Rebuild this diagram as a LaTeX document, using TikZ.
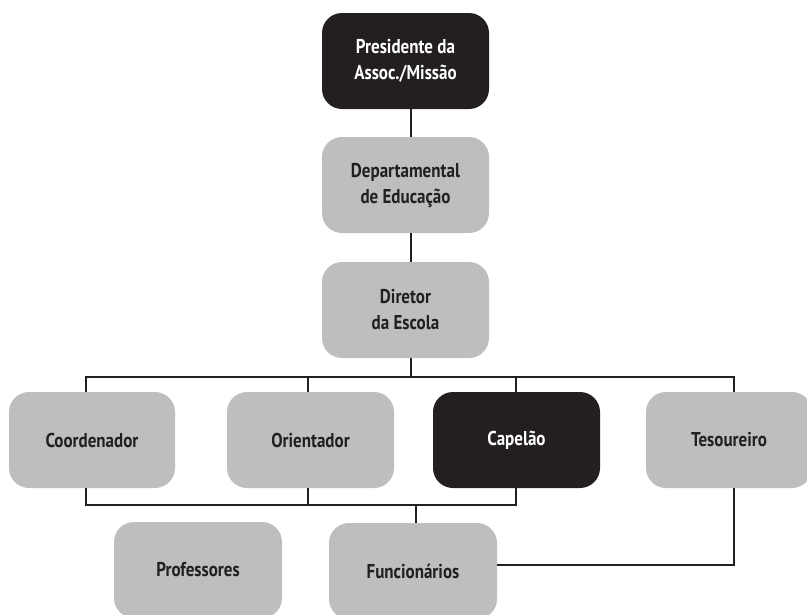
\documentclass[tikz,border=0pt]{standalone}
\usepackage{fontspec}
\setmainfont{PT Sans}[FakeStretch=0.85]
\usetikzlibrary{calc}
\definecolor{boxgray}{HTML}{BCBEC0}
\definecolor{boxblack}{HTML}{231F20}
\begin{document}
\begin{tikzpicture}[x=1pt,y=-1pt,
  box/.style={rounded corners=20pt, minimum height=96pt, minimum width=167pt, inner sep=0pt, align=center,
    font=\bfseries\fontsize{20}{26}\selectfont, text=boxblack, fill=boxgray},
  darkbox/.style={box, fill=boxblack, text=white},
  link/.style={draw=boxblack, line width=1.5pt}]
\useasboundingbox (0,0) rectangle (807,614);
% x positions of connectors
\coordinate (cx) at (411,0);
\coordinate (xa) at (86,0);
\coordinate (xb) at (308,0);
\coordinate (xc) at (516,0);
\coordinate (xd) at (734,0);
\coordinate (xf) at (416,0);
\coordinate (ytop) at (0,377);
\coordinate (ybot) at (0,505);
\coordinate (ytes) at (0,565);
% nodes
\node[darkbox] (pres) at (405.5,61) {Presidente da\\Assoc./Missão};
\node[box] (dep) at (405.5,185) {Departamental\\de Educação};
\node[box] (dir) at (405.5,310) {Diretor\\da Escola};
\node[box, minimum width=166pt] (coord) at (92,440) {Coordenador};
\node[box] (ori) at (310.5,440) {Orientador};
\node[darkbox] (cap) at (516.5,440) {Capelão};
\node[box, minimum width=166pt] (tes) at (729,440) {Tesoureiro};
\node[box, minimum width=168pt] (prof) at (198,570) {Professores};
\node[box, minimum width=168pt] (func) at (413,571) {Funcionários};
% connectors
\draw[link] (pres.south -| cx) -- (dep.north -| cx);
\draw[link] (dep.south -| cx) -- (dir.north -| cx);
\draw[link] (dir.south -| cx) -- (ytop -| cx);
\draw[link] (coord.north -| xa) -- (ytop -| xa) -- (ytop -| xd) -- (tes.north -| xd);
\draw[link] (ytop -| xb) -- (ori.north -| xb);
\draw[link] (ytop -| xc) -- (cap.north -| xc);
\draw[link] (coord.south -| xa) -- (ybot -| xa) -- (ybot -| xc) -- (cap.south -| xc);
\draw[link] (ori.south -| xb) -- (ybot -| xb);
\draw[link] (ybot -| xf) -- (func.north -| xf);
\draw[link] (tes.south -| xd) -- (ytes -| xd) -- (ytes -| func.east);
\end{tikzpicture}
\end{document}
